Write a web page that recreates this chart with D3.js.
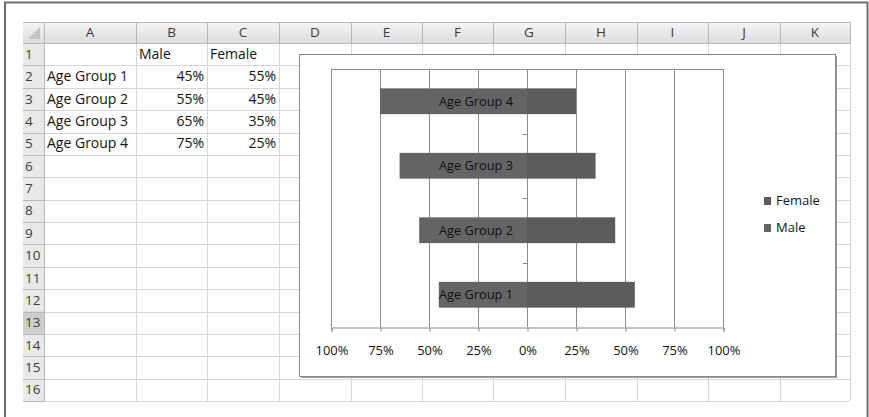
<!DOCTYPE html>
<html>
<head>
<meta charset="utf-8">
<script src="https://cdn.jsdelivr.net/npm/d3@7"></script>
<style>
  html, body { margin: 0; padding: 0; background: #fff; }
  svg { display: block; font-family: "Open Sans", "Noto Sans", sans-serif; }
</style>
</head>
<body>
<svg id="chart" width="869" height="417"></svg>
<script>
// ---- data ----
const categories = ["Age Group 1", "Age Group 2", "Age Group 3", "Age Group 4"];
const maleValues = [0.45, 0.55, 0.65, 0.75];
const femaleValues = [0.55, 0.45, 0.35, 0.25];
const seriesNames = ["Male", "Female"];
const xTickValues = [-1, -0.75, -0.5, -0.25, 0, 0.25, 0.5, 0.75, 1];
const columnLetters = ["A", "B", "C", "D", "E", "F", "G", "H", "I", "J", "K"];
const rowCount = 16;

const svg = d3.select("#chart");
const pct = d3.format(".0%");
const textColor = "#141414";

// ---- window frame ----
svg.append("path")
  .attr("d", "M5,417 V2.5 H867.5 V417")
  .attr("fill", "none").attr("stroke", "#6e6e6e").attr("stroke-width", 2);

// ---- spreadsheet layout ----
const colEdges = [23, 44, 136, 207, 279, 351, 422, 493, 565, 637, 708, 780, 850];
const headTop = 22, gridTop = 43, rowH = 22.375;
const rowY = d3.scaleLinear().domain([0, rowCount]).range([gridTop, gridTop + rowCount * rowH]);
const gridRight = colEdges[colEdges.length - 1];
const gridBottom = rowY(rowCount);

const defs = svg.append("defs");
const hg = defs.append("linearGradient").attr("id", "hdr").attr("x1", 0).attr("y1", 0).attr("x2", 0).attr("y2", 1);
hg.append("stop").attr("offset", "0%").attr("stop-color", "#f5f5f5");
hg.append("stop").attr("offset", "100%").attr("stop-color", "#dcdcdc");

svg.append("rect").attr("x", colEdges[0]).attr("y", headTop)
  .attr("width", gridRight - colEdges[0]).attr("height", gridTop - headTop)
  .attr("fill", "url(#hdr)");
svg.append("rect").attr("x", colEdges[0]).attr("y", gridTop)
  .attr("width", colEdges[1] - colEdges[0]).attr("height", gridBottom - gridTop)
  .attr("fill", "#e9e9e9");
svg.append("rect").attr("x", colEdges[0]).attr("y", rowY(12))
  .attr("width", colEdges[1] - colEdges[0]).attr("height", rowH)
  .attr("fill", "#cdcdcd");

const grid = svg.append("g").attr("stroke", "#d6d6d6").attr("stroke-width", 1);
d3.range(1, rowCount + 1).forEach(i => {
  grid.append("line").attr("x1", colEdges[1]).attr("x2", gridRight)
    .attr("y1", Math.round(rowY(i)) + 0.5).attr("y2", Math.round(rowY(i)) + 0.5);
});
colEdges.slice(2).forEach(x => {
  grid.append("line").attr("x1", x + 0.5).attr("x2", x + 0.5)
    .attr("y1", gridTop).attr("y2", gridBottom);
});
const hs = svg.append("g").attr("stroke", "#b8b8b8").attr("stroke-width", 1);
hs.append("line").attr("x1", colEdges[0]).attr("x2", gridRight).attr("y1", headTop + 0.5).attr("y2", headTop + 0.5);
hs.append("line").attr("x1", colEdges[0]).attr("x2", gridRight).attr("y1", gridTop + 0.5).attr("y2", gridTop + 0.5);
colEdges.slice(1).forEach(x => {
  hs.append("line").attr("x1", x + 0.5).attr("x2", x + 0.5).attr("y1", headTop).attr("y2", gridTop);
});
hs.append("line").attr("x1", colEdges[1] + 0.5).attr("x2", colEdges[1] + 0.5).attr("y1", gridTop).attr("y2", gridBottom);
d3.range(1, rowCount + 1).forEach(i => {
  hs.append("line").attr("x1", colEdges[0]).attr("x2", colEdges[1])
    .attr("y1", Math.round(rowY(i)) + 0.5).attr("y2", Math.round(rowY(i)) + 0.5);
});
svg.append("path")
  .attr("d", `M${colEdges[1] - 4},${headTop + 5} L${colEdges[1] - 4},${gridTop - 4} L${colEdges[0] + 5},${gridTop - 4} Z`)
  .attr("fill", "#c4c4c4");

svg.append("g").selectAll("text").data(columnLetters).join("text")
  .attr("x", (d, i) => (colEdges[i + 1] + colEdges[i + 2]) / 2)
  .attr("y", (headTop + gridTop) / 2 + 1)
  .attr("text-anchor", "middle").attr("dominant-baseline", "middle")
  .attr("font-size", 13.5).attr("fill", "#3c3c3c").text(d => d);
svg.append("g").selectAll("text").data(d3.range(1, rowCount + 1)).join("text")
  .attr("x", colEdges[0] + 2)
  .attr("y", d => rowY(d - 0.5) + 1)
  .attr("dominant-baseline", "middle")
  .attr("font-size", 13.5).attr("fill", "#3c3c3c").text(d => d);

const cells = svg.append("g").attr("font-size", 14).attr("fill", textColor).attr("dominant-baseline", "middle");
seriesNames.forEach((s, j) => {
  cells.append("text").attr("x", colEdges[2 + j] + 3).attr("y", rowY(0.5) + 1).text(s);
});
categories.forEach((c, i) => {
  const yy = rowY(i + 1.5) + 1;
  cells.append("text").attr("x", colEdges[1] + 3).attr("y", yy).text(c);
  cells.append("text").attr("x", colEdges[3] - 3).attr("y", yy).attr("text-anchor", "end").text(pct(maleValues[i]));
  cells.append("text").attr("x", colEdges[4] - 3).attr("y", yy).attr("text-anchor", "end").text(pct(femaleValues[i]));
});

// ---- chart object ----
const cx = 299, cy = 54, cw = 536, ch = 322;
svg.append("rect").attr("x", cx + 2).attr("y", cy + 2).attr("width", cw).attr("height", ch).attr("fill", "#9a9a9a");
svg.append("rect").attr("x", cx + 0.5).attr("y", cy + 0.5).attr("width", cw).attr("height", ch)
  .attr("fill", "#fff").attr("stroke", "#8a8a8a");

const x = d3.scaleLinear().domain([-1, 1]).range([331, 723]);
const y = d3.scaleBand().domain(categories.slice().reverse()).range([69, 327])
  .paddingInner(0.6).paddingOuter(0.3);
const [py0, py1] = y.range();

svg.append("g").selectAll("line").data(xTickValues).join("line")
  .attr("x1", d => Math.round(x(d)) + 0.5).attr("x2", d => Math.round(x(d)) + 0.5)
  .attr("y1", py0).attr("y2", py1)
  .attr("stroke", "#8c8c8c");
svg.append("line").attr("x1", x(-1)).attr("x2", x(1) + 1).attr("y1", py0 + 0.5).attr("y2", py0 + 0.5).attr("stroke", "#8c8c8c");

const xAxis = svg.append("g").attr("transform", `translate(0.5,${py1 + 0.5})`)
  .call(d3.axisBottom(x).tickValues(xTickValues).tickSize(4).tickPadding(14)
    .tickFormat(d => pct(Math.abs(d))));
xAxis.select(".domain").attr("stroke", "#8c8c8c");
xAxis.selectAll(".tick line").attr("stroke", "#8c8c8c");
xAxis.selectAll(".tick text").attr("font-size", 13).attr("fill", textColor)
  .attr("font-family", "\"Open Sans\", \"Noto Sans\", sans-serif");

svg.append("line").attr("x1", Math.round(x(0)) + 0.5).attr("x2", Math.round(x(0)) + 0.5)
  .attr("y1", py0).attr("y2", py1).attr("stroke", "#8c8c8c");
svg.append("g").selectAll("line").data(d3.range(1, categories.length)).join("line")
  .attr("x1", x(0) - 4).attr("x2", x(0))
  .attr("y1", d => Math.round(py0 + d * y.step()) + 0.5)
  .attr("y2", d => Math.round(py0 + d * y.step()) + 0.5)
  .attr("stroke", "#8c8c8c");

const bars = svg.append("g");
bars.selectAll("rect.male").data(categories).join("rect").attr("class", "male")
  .attr("x", (d, i) => x(-maleValues[i])).attr("width", (d, i) => x(0) - x(-maleValues[i]))
  .attr("y", d => y(d)).attr("height", y.bandwidth())
  .attr("fill", "#646464");
bars.selectAll("rect.female").data(categories).join("rect").attr("class", "female")
  .attr("x", x(0)).attr("width", (d, i) => x(femaleValues[i]) - x(0))
  .attr("y", d => y(d)).attr("height", y.bandwidth())
  .attr("fill", "#5c5c5c");

svg.append("g").selectAll("text").data(categories).join("text")
  .attr("x", x(-0.26)).attr("y", d => y(d) + y.bandwidth() / 2 + 1)
  .attr("text-anchor", "middle").attr("dominant-baseline", "middle")
  .attr("font-size", 12.8).attr("fill", "#111").text(d => d);

const legendItems = seriesNames.slice().reverse();
const legendColors = { Male: "#646464", Female: "#5c5c5c" };
const lg = svg.append("g").attr("transform", "translate(764,197)");
lg.selectAll("rect").data(legendItems).join("rect")
  .attr("x", 0).attr("y", (d, i) => i * 27).attr("width", 7).attr("height", 8)
  .attr("fill", d => legendColors[d]);
lg.selectAll("text").data(legendItems).join("text")
  .attr("x", 12).attr("y", (d, i) => i * 27 + 4.5)
  .attr("dominant-baseline", "middle").attr("font-size", 13).attr("fill", textColor)
  .text(d => d);
</script>
</body>
</html>
